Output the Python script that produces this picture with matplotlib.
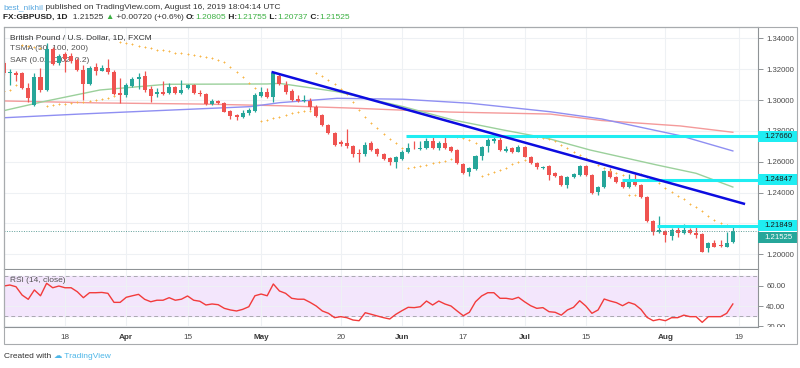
import numpy as np
import pandas as pd
import matplotlib
matplotlib.use("Agg")
import matplotlib.pyplot as plt
import matplotlib.transforms as mtransforms
from matplotlib.patches import Rectangle

# ---- data (GBPUSD daily, FXCM) ----
start_day = "2019-03-04"
end_day = "2019-08-16"

opens = [1.3237, 1.3175, 1.3178, 1.3173, 1.3080, 1.2968, 1.3151, 1.3065, 1.3329, 1.3238,
         1.3298, 1.3285, 1.3259, 1.3195, 1.3104, 1.3212, 1.3190, 1.3206, 1.3184, 1.3044,
         1.3033, 1.3091, 1.3134, 1.3156, 1.3070, 1.3037, 1.3049, 1.3047, 1.3082, 1.3047,
         1.3076, 1.3097, 1.3047, 1.3039, 1.2974, 1.2996, 1.2979, 1.2930, 1.2903, 1.2893,
         1.2914, 1.2929, 1.3026, 1.3054, 1.3022, 1.3158, 1.3097, 1.3060, 1.3004, 1.2996,
         1.2996, 1.2957, 1.2903, 1.2838, 1.2788, 1.2730, 1.2723, 1.2702, 1.2655, 1.2650,
         1.2723, 1.2680, 1.2650, 1.2622, 1.2600, 1.2618, 1.2665, 1.2691, 1.2683, 1.2691,
         1.2735, 1.2686, 1.2723, 1.2694, 1.2676, 1.2585, 1.2535, 1.2551, 1.2637, 1.2702,
         1.2737, 1.2741, 1.2672, 1.2687, 1.2665, 1.2694, 1.2629, 1.2594, 1.2560, 1.2572,
         1.2529, 1.2508, 1.2449, 1.2499, 1.2514, 1.2572, 1.2514, 1.2406, 1.2434, 1.2542,
         1.2499, 1.2471, 1.2434, 1.2482, 1.2449, 1.2373, 1.2218, 1.2147, 1.2153, 1.2121,
         1.2158, 1.2136, 1.2158, 1.2140, 1.2131, 1.2043, 1.2071, 1.2060, 1.2050, 1.20805]
highs = [1.3250, 1.3201, 1.3190, 1.3180, 1.3110, 1.3173, 1.3206, 1.3368, 1.3345, 1.3300,
         1.3310, 1.3305, 1.3270, 1.3227, 1.3220, 1.3240, 1.3225, 1.3265, 1.3195, 1.3140,
         1.3110, 1.3150, 1.3173, 1.3190, 1.3090, 1.3075, 1.3120, 1.3110, 1.3090, 1.3130,
         1.3107, 1.3105, 1.3065, 1.3045, 1.3005, 1.3003, 1.2985, 1.2935, 1.2910, 1.2935,
         1.2945, 1.3045, 1.3086, 1.3075, 1.3184, 1.3170, 1.3120, 1.3070, 1.3030, 1.3033,
         1.3010, 1.2965, 1.2910, 1.2845, 1.2795, 1.2740, 1.2810, 1.2710, 1.2685, 1.2730,
         1.2735, 1.2690, 1.2655, 1.2630, 1.2640, 1.2675, 1.2720, 1.2735, 1.2735, 1.2755,
         1.2758, 1.2735, 1.2758, 1.2700, 1.2680, 1.2590, 1.2565, 1.2645, 1.2700, 1.2752,
         1.2767, 1.2767, 1.2700, 1.2695, 1.2710, 1.2700, 1.2635, 1.2600, 1.2572, 1.2578,
         1.2535, 1.2512, 1.2505, 1.2525, 1.2579, 1.2578, 1.2518, 1.2440, 1.2548, 1.2557,
         1.2505, 1.2476, 1.2521, 1.2521, 1.2455, 1.2378, 1.2224, 1.2248, 1.2160, 1.2168,
         1.2185, 1.2197, 1.2168, 1.2175, 1.2136, 1.2078, 1.2092, 1.2092, 1.2147, 1.21755]
lows = [1.3160, 1.3097, 1.3125, 1.3070, 1.2989, 1.2962, 1.3055, 1.3060, 1.3225, 1.3230,
        1.3184, 1.3240, 1.3190, 1.3000, 1.3098, 1.3165, 1.3185, 1.3170, 1.3030, 1.2979,
        1.3020, 1.3085, 1.3070, 1.3055, 1.2989, 1.3020, 1.3030, 1.3040, 1.3040, 1.3040,
        1.3070, 1.3040, 1.3025, 1.2970, 1.2968, 1.2972, 1.2920, 1.2880, 1.2868, 1.2885,
        1.2905, 1.2925, 1.3020, 1.3010, 1.2989, 1.3095, 1.3040, 1.2995, 1.2985, 1.2990,
        1.2935, 1.2890, 1.2830, 1.2780, 1.2700, 1.2705, 1.2690, 1.2630, 1.2600, 1.2640,
        1.2670, 1.2640, 1.2610, 1.2579, 1.2557, 1.2610, 1.2655, 1.2680, 1.2675, 1.2685,
        1.2680, 1.2678, 1.2680, 1.2665, 1.2585, 1.2520, 1.2508, 1.2545, 1.2610, 1.2660,
        1.2720, 1.2670, 1.2665, 1.2658, 1.2660, 1.2628, 1.2585, 1.2555, 1.2555, 1.2482,
        1.2500, 1.2442, 1.2430, 1.2493, 1.2508, 1.2508, 1.2392, 1.2385, 1.2428, 1.2494,
        1.2460, 1.2428, 1.2428, 1.2443, 1.2368, 1.2212, 1.2125, 1.2140, 1.2082, 1.2095,
        1.2110, 1.2130, 1.2130, 1.2108, 1.2012, 1.2015, 1.2045, 1.2048, 1.2045, 1.20737]
closes = [1.3173, 1.3180, 1.3165, 1.3076, 1.3011, 1.3147, 1.3065, 1.3329, 1.3233, 1.3285,
          1.3264, 1.3255, 1.3195, 1.3104, 1.3206, 1.3190, 1.3206, 1.3184, 1.3039, 1.3033,
          1.3097, 1.3134, 1.3151, 1.3065, 1.3026, 1.3052, 1.3039, 1.3086, 1.3047, 1.3065,
          1.3097, 1.3044, 1.3037, 1.2974, 1.2996, 1.2979, 1.2924, 1.2898, 1.2893, 1.2914,
          1.2935, 1.3033, 1.3054, 1.3022, 1.3173, 1.3106, 1.3054, 1.3000, 1.2996, 1.3000,
          1.2957, 1.2896, 1.2838, 1.2788, 1.2709, 1.2715, 1.2702, 1.2650, 1.2650, 1.2709,
          1.2676, 1.2648, 1.2618, 1.2600, 1.2633, 1.2665, 1.2691, 1.2686, 1.2691, 1.2735,
          1.2686, 1.2723, 1.2687, 1.2672, 1.2590, 1.2529, 1.2557, 1.2637, 1.2694, 1.2741,
          1.2745, 1.2676, 1.2683, 1.2665, 1.2694, 1.2633, 1.2590, 1.2564, 1.2566, 1.2514,
          1.2508, 1.2449, 1.2499, 1.2519, 1.2572, 1.2514, 1.2399, 1.2434, 1.2542, 1.2499,
          1.2471, 1.2434, 1.2486, 1.2449, 1.2373, 1.2218, 1.2147, 1.2158, 1.2125, 1.2155,
          1.2136, 1.2158, 1.2136, 1.2127, 1.2017, 1.2071, 1.2050, 1.2052, 1.2076, 1.21525]

# parabolic SAR dots
sar = [1.3060, 1.3065, 1.3097, 1.3357, 1.3350, 1.3342, 1.3335, 1.2962, 1.2968, 1.2972,
       1.2976, 1.2980, 1.2984, 1.2988, 1.2993, 1.3000, 1.3008, 1.3016, 1.3025, 1.3378,
       1.3370, 1.3360, 1.3350, 1.3342, 1.3334, 1.3327, 1.3324, 1.3318, 1.3307, 1.3303,
       1.3296, 1.3290, 1.3285, 1.3277, 1.3270, 1.3259, 1.3244, 1.3216, 1.3184, 1.3151,
       1.3112, 1.3080, 1.2864, 1.2870, 1.2882, 1.2892, 1.2903, 1.2918, 1.2924, 1.2930,
       1.2930, 1.3177, 1.3158, 1.3130, 1.3102, 1.3071, 1.3037, 1.2985, 1.2935, 1.2888,
       1.2849, 1.2816, 1.2779, 1.2745, 1.2719, 1.2691, 1.2557, 1.2566, 1.2572, 1.2579,
       1.2589, 1.2596, 1.2607, 1.2618, 1.2758, 1.2755, 1.2741, 1.2722, 1.2508, 1.2519,
       1.2532, 1.2547, 1.2557, 1.2585, 1.2600, 1.2614, 1.2767, 1.2760, 1.2752, 1.2745,
       1.2736, 1.2708, 1.2687, 1.2665, 1.2644, 1.2625, 1.2605, 1.2580, 1.2557, 1.2540,
       1.2525, 1.2514, 1.2385, 1.2385, 1.2521, 1.2500, 1.2480, 1.2464, 1.2432, 1.2402,
       1.2378, 1.2357, 1.2326, 1.2305, 1.2281, 1.2250, 1.2225, 1.2205, 1.2192, 1.2182]

# RSI (14, close)
rsi = [59.7, 60.7, 59.0, 50.8, 46.6, 55.8, 50.1, 62.4, 58.0, 59.7,
       58.0, 58.0, 54.1, 48.2, 53.1, 53.1, 53.4, 52.5, 43.6, 43.6,
       48.6, 50.1, 51.5, 46.6, 44.2, 45.7, 45.7, 48.2, 45.7, 46.7,
       49.9, 45.7, 44.7, 41.0, 42.0, 41.3, 37.7, 36.1, 35.1, 36.7,
       39.3, 50.1, 51.8, 50.1, 61.7, 54.8, 52.5, 47.6, 46.7, 46.7,
       43.6, 40.0, 35.1, 32.8, 28.5, 29.5, 28.5, 26.2, 25.5, 33.4,
       31.8, 30.1, 28.5, 27.2, 31.8, 35.4, 38.7, 38.4, 39.3, 44.9,
       41.0, 44.9, 42.0, 40.0, 35.1, 30.4, 33.8, 44.2, 49.9, 53.1,
       53.1, 47.6, 47.6, 46.6, 48.6, 44.2, 40.3, 37.7, 38.4, 34.4,
       33.8, 31.0, 36.1, 38.7, 45.2, 40.0, 32.8, 36.1, 46.9, 44.9,
       43.3, 40.3, 43.6, 41.6, 36.7, 28.8, 25.5, 26.8, 25.5, 28.5,
       28.5, 31.0, 29.5, 29.5, 23.9, 29.5, 29.5, 29.5, 32.8, 42.0]

# TSMA 50 / 100 / 200, read at points along each line (bar index, price)
ma50_idx = [0, 6.4, 15.7, 26.6, 43, 45, 54.4, 65.2, 73.3, 81.5, 85.9, 89.2, 95.7, 106.6, 113, 119]
ma50_val = [1.2931, 1.2989, 1.3065, 1.3102, 1.3104, 1.3108, 1.3054, 1.2957, 1.2871, 1.2806,
            1.2773, 1.2747, 1.2676, 1.2579, 1.2525, 1.2436]
ma100_idx = [0, 12.4, 23.9, 40.2, 45.1, 54.4, 65.2, 76.1, 89.2, 97.6, 110.4, 119]
ma100_val = [1.2885, 1.2909, 1.2929, 1.2957, 1.2983, 1.3011, 1.3005, 1.2979, 1.2924, 1.2877,
             1.2769, 1.2670]
ma200_idx = [0, 15.7, 32, 45.1, 56.5, 72.8, 89.2, 97.6, 110.4, 119]
ma200_val = [1.2994, 1.2981, 1.2974, 1.2963, 1.2948, 1.2922, 1.2909, 1.2867, 1.2832, 1.2791]

# drawn lines: horizontal levels (start bar, price) and the falling trend line
level_start = [65.6, 100.9, 106.6]
level_price = [1.27660, 1.24847, 1.21849]
trend_idx = [43.9, 120.8]
trend_price = [1.3180, 1.2328]
last_price = 1.21525

price_ticks = [1.20, 1.22, 1.24, 1.26, 1.28, 1.30, 1.32, 1.34]
rsi_ticks = [20, 40, 60]
tick_dates = ["2019-03-18", "2019-04-01", "2019-04-15", "2019-05-01", "2019-05-20", "2019-06-03",
              "2019-06-17", "2019-07-01", "2019-07-15", "2019-08-01", "2019-08-19"]
tick_labels = ["18", "Apr", "15", "May", "20", "Jun", "17", "Jul", "15", "Aug", "19"]

# ---- colours / sizes ----
UP = "#26a69a"
DOWN = "#ef5350"
CYAN = "#1fedf2"
GRID = "#eef1f4"
AXC = "#8f9396"
TXT = "#4a4a4a"
FS = 6.0      # text size of headers / legends
AFS = 5.6     # axis label size

plt.rcParams["font.family"] = ["Liberation Sans", "DejaVu Sans"]

days = pd.bdate_range(start_day, end_day)
x = np.arange(len(days))
tick_pos = [days.searchsorted(pd.Timestamp(d)) for d in tick_dates]

W, H = 800, 368
fig = plt.figure(figsize=(W / 100, H / 100), dpi=100)

def fx(px):
    return px / W

def fy(py):
    return 1 - py / H

ax = fig.add_axes([fx(4), fy(269), fx(754), 242 / H])
ax_r = fig.add_axes([fx(4), fy(326.7), fx(754), 56.7 / H])

xl = ((4 - 3.73) / 6.127, (758 - 3.73) / 6.127)
ax.set_xlim(*xl)
ax_r.set_xlim(*xl)
ax.set_ylim(1.19048, 1.34732)
ax_r.set_ylim(19.6, 75.5)

for a in (ax, ax_r):
    a.set_xticks(tick_pos)
    a.grid(True, color=GRID, lw=0.8, zorder=0)
    a.set_axisbelow(True)
    for s in a.spines.values():
        s.set_color(AXC)
        s.set_linewidth(0.8)
    a.yaxis.tick_right()
    a.tick_params(axis="y", colors=AXC, labelcolor=TXT, labelsize=AFS, length=3.5, width=0.7, pad=2.5)
ax_r.spines["top"].set_visible(False)
ax.tick_params(axis="x", length=0, labelbottom=False)
ax_r.tick_params(axis="x", length=0, labelsize=AFS + 0.3, labelcolor=TXT, pad=5)
ax_r.set_xticklabels(tick_labels)
for lab in ax_r.get_xticklabels():
    if not lab.get_text().isdigit():
        lab.set_fontweight("bold")
        lab.set_color("#3a3a3a")

# 1.22000 sits completely under the 1.21849 box, so it is left blank
box_h = 11 / 1543
ax.set_yticks(price_ticks)
ax.set_yticklabels(["" if abs(p - level_price[-1]) < box_h else f"{p:.5f}" for p in price_ticks])
ax_r.set_yticks(rsi_ticks)
ax_r.set_yticklabels([f"{v:.2f}" for v in rsi_ticks])

# the 20.00 label is half hidden under the time axis
clip = mtransforms.TransformedBbox(
    mtransforms.Bbox([[fx(758), fy(326.7)], [1, fy(270)]]), fig.transFigure)
for lab in ax_r.get_yticklabels():
    lab.set_clip_box(clip)
    lab.set_clip_on(True)

# 1.28000 peeks out above the 1.27660 box
for lab, p in zip(ax.get_yticklabels(), price_ticks):
    if abs(p - level_price[0]) < box_h:
        top = ax.transData.transform((0, level_price[0] + box_h / 2))[1]
        lab.set_clip_box(mtransforms.Bbox([[fig.bbox.width * fx(758), top],
                                           [fig.bbox.width, fig.bbox.height]]))
        lab.set_clip_on(True)

# ---- moving averages ----
ax.plot(ma200_idx, ma200_val, color="#f49a9a", lw=1.0, zorder=2)
ax.plot(ma100_idx, ma100_val, color="#8f8ff2", lw=1.0, zorder=2)
ax.plot(ma50_idx, ma50_val, color="#9bd09b", lw=1.0, zorder=2)

# ---- candles ----
o = np.array(opens)
c = np.array(closes)
up = c >= o
cols = np.where(up, UP, DOWN)
ax.vlines(x, lows, highs, colors=cols, lw=0.9, zorder=3)
body_lo = np.minimum(o, c)
body_h = np.maximum(np.abs(c - o), 0.0004)
ax.bar(x, body_h, bottom=body_lo, width=0.66, color=cols, lw=0, zorder=4)

# ---- SAR ----
ax.plot(x, sar, ls="none", marker="+", ms=2.0, mew=0.7, color="#f7b547", zorder=5)

# ---- drawings ----
last_x = xl[1] + 5
for s0, p in zip(level_start, level_price):
    ax.plot([s0, last_x], [p, p], color=CYAN, lw=2.2, zorder=6, clip_on=False,
            solid_capstyle="butt")
ax.plot(trend_idx, trend_price, color="#0c0ce0", lw=1.8, zorder=6)
ax.axhline(last_price, color="#5f9f99", lw=0.7, ls=(0, (1, 1.5)), zorder=5)

# price labels on the scale
btrans = mtransforms.blended_transform_factory(ax.transAxes, ax.transData)
box_w = 40 / 754
for p in level_price:
    ax.add_patch(Rectangle((1.0, p - box_h / 2), box_w, box_h, transform=btrans,
                           facecolor=CYAN, edgecolor="none", clip_on=False, zorder=10))
    ax.text(1.0 + 6 / 754, p, f"{p:.5f}", transform=btrans, fontsize=AFS, color="#1a1a1a",
            va="center", ha="left", zorder=11, clip_on=False)
lp = level_price[-1] - box_h * 1.05
ax.add_patch(Rectangle((1.0, lp - box_h / 2), box_w, box_h, transform=btrans,
                       facecolor=UP, edgecolor="none", clip_on=False, zorder=10))
ax.text(1.0 + 6 / 754, lp, f"{last_price:.5f}", transform=btrans, fontsize=AFS, color="white",
        va="center", ha="left", zorder=11, clip_on=False)

# ---- legend texts inside panes ----
ax.text(fx(6), 1 - 10.3 / 242, "British Pound / U.S. Dollar, 1D, FXCM", transform=ax.transAxes,
        fontsize=FS, color="#333333", va="center", zorder=1)
ax.text(fx(6), 1 - 22 / 242, "TSMA (50, 100, 200)", transform=ax.transAxes,
        fontsize=FS, color="#555555", va="center", zorder=1)
ax.text(fx(6), 1 - 33 / 242, "SAR (0.02, 0.02, 0.2)", transform=ax.transAxes,
        fontsize=FS, color="#555555", va="center", zorder=1)

ax_r.axhspan(30, 70, color="#f3e6fc", zorder=0.5)
ax_r.axhline(70, color="#a9a9b0", lw=0.7, ls=(0, (4, 3)), zorder=1)
ax_r.axhline(30, color="#a9a9b0", lw=0.7, ls=(0, (4, 3)), zorder=1)
ax_r.plot(x, rsi, color="#f23b3b", lw=1.0, zorder=3)
ax_r.text(fx(6), 1 - 10 / 56.7, "RSI (14, close)", transform=ax_r.transAxes,
          fontsize=FS, color="#555555", va="center", zorder=4)

# outer frame of the snapshot
fig.patches.append(Rectangle((fx(4), fy(344)), fx(793), 317 / H, transform=fig.transFigure,
                             fill=False, edgecolor="#a8abae", lw=0.8))

# ---- header and footer ----
rend = fig.canvas.get_renderer()

def text_run(x0, y0, parts, size):
    for txt, col, wt in parts:
        t = fig.text(x0, y0, txt, color=col, fontsize=size, fontweight=wt, va="center", ha="left")
        x0 += t.get_window_extent(renderer=rend).width / fig.bbox.width
    return x0

GREEN = "#3cb043"
text_run(fx(3), fy(7.3), [("best_nikhil", "#58a8e0", "normal"),
                          (" published on TradingView.com, August 16, 2019 18:04:14 UTC", "#333333", "normal")], FS)
text_run(fx(3), fy(17.7), [("FX:GBPUSD, 1D", "#222222", "bold"),
                           ("  1.21525 ", "#333333", "normal"),
                           ("\u25b2", GREEN, "normal"),
                           (" +0.00720 (+0.6%) ", "#333333", "normal"),
                           ("O:", "#222222", "bold"), ("1.20805", GREEN, "normal"),
                           (" H:", "#222222", "bold"), ("1.21755", GREEN, "normal"),
                           (" L:", "#222222", "bold"), ("1.20737", GREEN, "normal"),
                           (" C:", "#222222", "bold"), ("1.21525", GREEN, "normal")], FS)
text_run(fx(4), fy(357), [("Created with ", "#333333", "normal"),
                          ("\u2601", "#4cb6e8", "normal"),
                          (" TradingView", "#4cb6e8", "normal")], FS)

fig.savefig("out.png", dpi=100)
